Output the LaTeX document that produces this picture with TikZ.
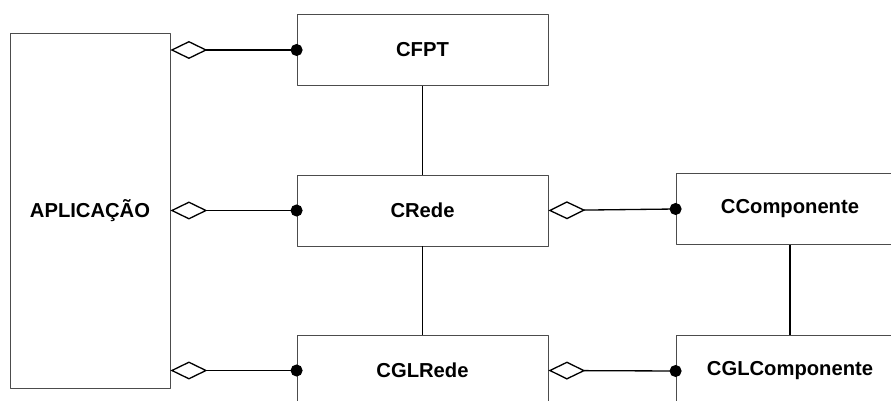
\documentclass[tikz,border=0pt]{standalone}
\usepackage{fontspec}
\setmainfont{Liberation Sans}
\usetikzlibrary{arrows.meta}
\tikzset{
  classe/.style={draw=black!70, line width=.5pt, fill=white, inner sep=0pt, minimum width=5.02cm, minimum height=1.42cm, font=\fontsize{11.5}{13}\selectfont\bfseries},
  agreg/.style={line width=.75pt, {Diamond[open,length=.74cm,width=.36cm]}-{Circle[length=.24cm]}, shorten >=-.12cm},
  liga/.style={line width=.75pt}
}
\begin{document}
\begin{tikzpicture}[x=.02cm, y=-.02cm, line join=round]
\useasboundingbox (0,0) rectangle (891,401);
\clip (0,0) rectangle (891,401);
\node[classe, minimum width=3.2cm, minimum height=7.1cm] (app) at (90,210.5) {APLICAÇÃO};
\node[classe] (cfpt) at (422.5,50) {CFPT};
\node[classe] (crede) at (422.5,210.5) {CRede};
\node[classe] (cglrede) at (422.5,370.5) {CGLRede};
\node[classe, minimum width=4.56cm] (ccomp) at (790,209) {CComponente};
\node[classe, minimum width=4.56cm] (cglcomp) at (790,371) {CGLComponente};
\draw[liga] (cfpt) -- (crede) -- (cglrede);
\draw[liga] (ccomp) -- (cglcomp);
\draw[agreg] (app.east |- cfpt.west) -- (cfpt.west);
\draw[agreg] (app.east |- crede.west) -- (crede.west);
\draw[agreg] (app.east |- cglrede.west) -- (cglrede.west);
\draw[agreg] (crede.east) -- (ccomp.west);
\draw[agreg] (cglrede.east) -- (cglcomp.west);
\end{tikzpicture}
\end{document}
